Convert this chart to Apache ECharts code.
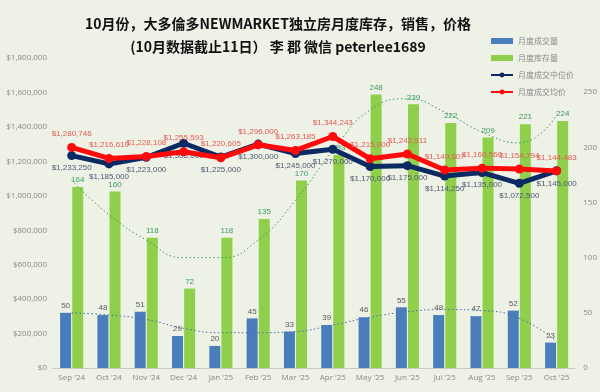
<!DOCTYPE html>
<html>
<head>
<meta charset="utf-8">
<script src="https://cdn.jsdelivr.net/npm/echarts@6/dist/echarts.min.js"></script>
<style>
html,body{margin:0;padding:0;background:#eef1e6;}
#c{width:600px;height:392px;}
</style>
</head>
<body>
<div id="c"></div>
<script>
const categories = ["Sep '24","Oct '24","Nov '24","Dec '24","Jan '25","Feb '25","Mar '25","Apr '25","May '25","Jun '25","Jul '25","Aug '25","Sep '25","Oct '25"];
const salesCount = [50,48,51,29,20,45,33,39,46,55,48,47,52,23];
const inventory = [164,160,118,72,118,135,170,193,248,239,222,209,221,224];
const medianPrice = [1233250,1185000,1223000,1305000,1225000,1300000,1245000,1270000,1170000,1175000,1114250,1135000,1072500,1145000];
const avgPrice = [1280746,1216610,1228108,1255593,1220605,1296000,1263185,1344243,1215000,1242511,1149507,1160560,1154794,1144483];
const inventoryTrend = [170,139,116,100,100,116,152,197,234,244,232,214,204,229];
const salesTrend = [50,48,44,36,32,32,33,39,46,51,53,52,45,24];
const leftTicks = [0,200000,400000,600000,800000,1000000,1200000,1400000,1600000,1800000];
const rightTicks = [0,50,100,150,200,250];

const money = v => '$' + Math.round(v).toLocaleString('en-US');
const chart = echarts.init(document.getElementById('c'));
const axisLbl = {color:'#8a8a8a', fontSize:8, fontFamily:'Open Sans'};
chart.setOption({
  backgroundColor:'#eef1e6',
  animation:false,
  title:{
    text:'10月份，大多倫多NEWMARKET独立房月度库存，销售，价格\n(10月数据截止11日） 李 郡 微信 peterlee1689',
    left:273, top:7, textAlign:'center',
    textStyle:{fontSize:14, fontWeight:'bold', color:'#111', lineHeight:23, fontFamily:'Noto Sans CJK SC'}
  },
  legend:{
    orient:'vertical', left:485, top:32, itemWidth:22, itemHeight:6, itemGap:9,
    textStyle:{color:'#8a8a8a', fontSize:8, fontFamily:'Noto Sans CJK SC'},
    data:[
      {name:'月度成交量', icon:'rect'},
      {name:'月度库存量', icon:'rect'},
      {name:'月度成交中位价'},
      {name:'月度成交均价'}
    ]
  },
  grid:{left:53, right:24, top:58, bottom:24},
  xAxis:{
    type:'category', data:categories,
    axisLine:{lineStyle:{color:'#c8c8c8'}}, axisTick:{show:false},
    axisLabel:Object.assign({margin:6}, axisLbl)
  },
  yAxis:[
    {type:'value', min:leftTicks[0], max:leftTicks[leftTicks.length-1], interval:leftTicks[1]-leftTicks[0],
     splitLine:{show:false}, axisLine:{show:false}, axisTick:{show:false},
     axisLabel:Object.assign({formatter:v=>money(v), margin:6}, axisLbl)},
    {type:'value', min:rightTicks[0], max:281, interval:rightTicks[1]-rightTicks[0],
     splitLine:{show:false}, axisLine:{show:false}, axisTick:{show:false},
     axisLabel:Object.assign({showMaxLabel:false, margin:8, formatter:v=>rightTicks.includes(v)?String(v):''}, axisLbl)}
  ],
  series:[
    {name:'月度成交量', type:'bar', yAxisIndex:1, data:salesCount, barWidth:11, barGap:'10%',
     itemStyle:{color:'#4a7ebb'},
     label:{show:true, position:'top', color:'#5a5a5a', fontSize:8, distance:3}},
    {name:'月度库存量', type:'bar', yAxisIndex:1, data:inventory, barWidth:11, barGap:'10%',
     itemStyle:{color:'#8fcf4c'},
     label:{show:true, position:'top', color:'#3b9a63', fontSize:8, distance:3}},
    {name:'inventoryTrend', type:'line', yAxisIndex:1, data:inventoryTrend, smooth:0.5, symbol:'none', silent:true,
     lineStyle:{color:'#3b9a63', width:1, type:[1.5,2.5]}, z:3},
    {name:'salesTrend', type:'line', yAxisIndex:1, data:salesTrend, smooth:0.5, symbol:'none', silent:true,
     lineStyle:{color:'#3d6fa8', width:1, type:[1.5,2.5]}, z:3},
    {name:'月度成交中位价', type:'line', yAxisIndex:0, data:medianPrice, symbol:'circle', symbolSize:9,
     lineStyle:{color:'#0b2a64', width:5}, itemStyle:{color:'#0b2a64'}, z:5,
     label:{show:true, position:'bottom', color:'#4a5a70', fontSize:8, distance:4, formatter:p=>money(p.value)}},
    {name:'月度成交均价', type:'line', yAxisIndex:0, data:avgPrice, symbol:'circle', symbolSize:9,
     lineStyle:{color:'#ff0a0a', width:5}, itemStyle:{color:'#ff0a0a'}, z:6,
     label:{show:true, position:'top', color:'#e35a50', fontSize:8, distance:5, formatter:p=>money(p.value)}}
  ]
});
</script>
</body>
</html>
